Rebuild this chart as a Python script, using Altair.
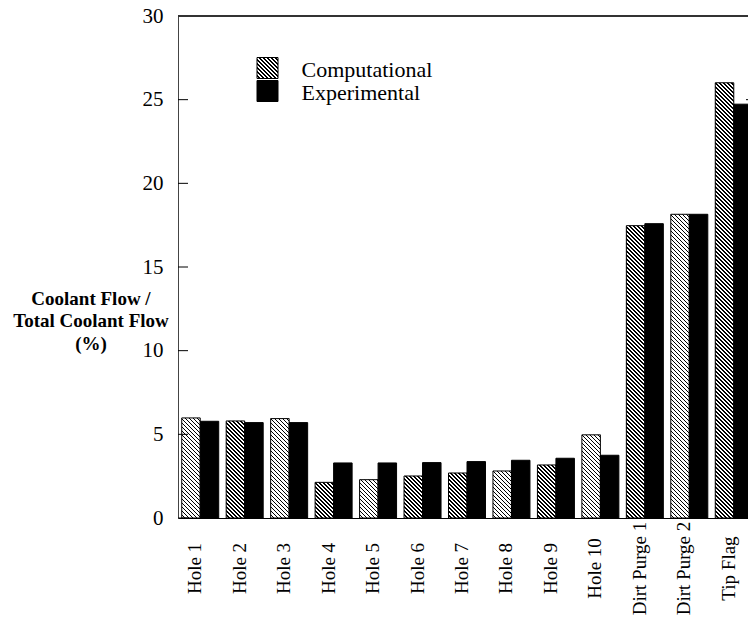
import altair as alt

# ---------------- data ----------------
categories = ["Hole 1", "Hole 2", "Hole 3", "Hole 4", "Hole 5", "Hole 6", "Hole 7",
              "Hole 8", "Hole 9", "Hole 10", "Dirt Purge 1", "Dirt Purge 2", "Tip Flag"]
computational = [5.98, 5.80, 5.94, 2.13, 2.29, 2.51, 2.69, 2.81, 3.17, 4.97, 17.47, 18.15, 26.01]
experimental = [5.78, 5.70, 5.70, 3.29, 3.29, 3.31, 3.37, 3.45, 3.57, 3.75, 17.59, 18.15, 24.73]
series = ["Computational", "Experimental"]
y_ticks = [0, 5, 10, 15, 20, 25, 30]
y_title = ["Coolant Flow /", "Total Coolant Flow", "(%)"]

# ---------------- layout / style ----------------
FONT = "Liberation Serif"
W, H = 570, 502          # plot area (right part is cut by the window, as in the reference)
X_RANGE = 578
PAD_INNER, PAD_OUTER = 0.168, 0.084
Y_MAX = 30


def hatch(w, h, period=4.0, dark=0.38):
    """Diagonal '\\' hatch as a linear gradient with hard stops (bbox units)."""
    p = period / (w + h)
    stops = []
    t = 0.0
    while t < 1:
        t1 = min(t + (1 - dark) * p, 1.0)
        t2 = min(t + p, 1.0)
        stops += [{"offset": round(t, 5), "color": "white"},
                  {"offset": round(t1, 5), "color": "white"},
                  {"offset": round(t1, 5), "color": "black"},
                  {"offset": round(t2, 5), "color": "black"}]
        t += p
    c = (w + h) / (w * w + h * h)
    return {"gradient": "linear", "x1": 0, "y1": 1,
            "x2": round(c * w, 6), "y2": round(1 - c * h, 6), "stops": stops}


step = X_RANGE / (len(categories) - PAD_INNER + 2 * PAD_OUTER)
bar_w = step * (1 - PAD_INNER) / 2

rows = []
for cat, vc, ve in zip(categories, computational, experimental):
    rows.append({"category": cat, "series": series[0], "value": vc,
                 "pattern": hatch(bar_w, vc * H / Y_MAX)})
    rows.append({"category": cat, "series": series[1], "value": ve,
                 "pattern": "black"})

y_axis = alt.Axis(values=y_ticks, ticks=False, tickSize=0, grid=False,
                  labelFont=FONT, labelFontSize=21, labelColor="black",
                  labelPadding=15, domainColor="#444", domainWidth=1,
                  title=y_title, titleAngle=0, titleAlign="center",
                  titleBaseline="middle", titleX=-87.5, titleY=282,
                  titleFont=FONT, titleFontWeight="bold", titleFontSize=19,
                  titleLineHeight=22.5, titleColor="black")
y_scale = alt.Scale(domain=[0, Y_MAX], nice=False, zero=True)

bars = alt.Chart(alt.Data(values=rows)).mark_bar(stroke="black", strokeWidth=1).encode(
    x=alt.X("category:N", sort=categories,
            scale=alt.Scale(range=[0, X_RANGE], paddingInner=PAD_INNER, paddingOuter=PAD_OUTER),
            axis=alt.Axis(title=None, labelAngle=-90, labelAlign="center",
                          labelBaseline="middle", labelFont=FONT, labelFontSize=19,
                          labelColor="black", labelPadding=50, labelOffset=-5,
                          ticks=False, tickSize=0, domainColor="black", domainWidth=1,
                          grid=False)),
    xOffset=alt.XOffset("series:N", sort=series,
                        scale=alt.Scale(paddingInner=0, paddingOuter=0)),
    y=alt.Y("value:Q", stack=None, scale=y_scale, axis=y_axis),
    color=alt.Color("pattern:N", scale=None),
)

tick_data = alt.Data(values=[{"value": t} for t in y_ticks])
left_ticks = alt.Chart(tick_data).mark_rule(color="black", strokeWidth=1).encode(
    y=alt.Y("value:Q", scale=y_scale, axis=y_axis),
    x=alt.value(0), x2=alt.value(10))
right_ticks = alt.Chart(tick_data).mark_rule(color="black", strokeWidth=1).encode(
    y=alt.Y("value:Q", scale=y_scale, axis=y_axis),
    x=alt.value(W - 2), x2=alt.value(W + 8))

top_line = alt.Chart(tick_data).mark_rule(color="#333", strokeWidth=1).encode(
    y=alt.value(0), x=alt.value(0), x2=alt.value(W))

legend_rows = [{"series": series[0], "pattern": hatch(21, 21)},
               {"series": series[1], "pattern": "black"}]
legend_layers = []
for row, y0 in zip(legend_rows, [41.5, 64.5]):
    d = alt.Data(values=[row])
    legend_layers.append(
        alt.Chart(d).mark_rect(stroke="black", strokeWidth=1).encode(
            x=alt.value(79), x2=alt.value(100), y=alt.value(y0), y2=alt.value(y0 + 21),
            color=alt.Color("pattern:N", scale=None)))
    legend_layers.append(
        alt.Chart(d).mark_text(align="left", baseline="alphabetic", font=FONT,
                               fontSize=22, color="black").encode(
            x=alt.value(123.5), y=alt.value(y0 + 19), text="series:N"))

chart = alt.layer(bars, left_ticks, right_ticks, top_line, *legend_layers).properties(
    width=W, height=H,
    autosize=alt.AutoSizeParams(type="none"),
    padding={"left": 178, "top": 16, "right": 0, "bottom": 100},
    background="white",
).configure_view(stroke=None)

chart.save("out.html", embed_options={"renderer": "svg", "actions": False})
